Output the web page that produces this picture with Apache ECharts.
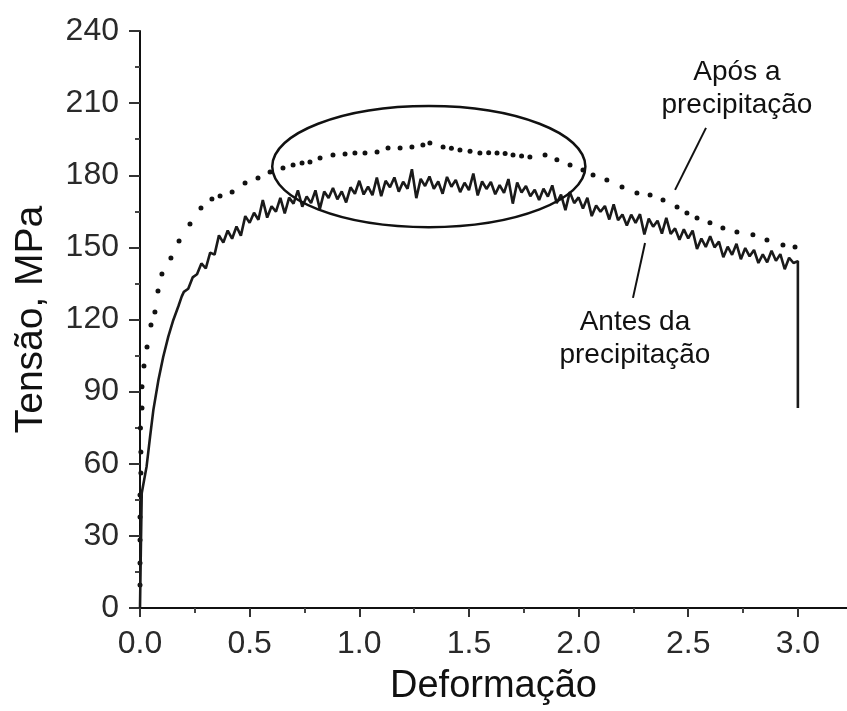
<!DOCTYPE html>
<html><head><meta charset="utf-8">
<script src="https://cdn.jsdelivr.net/npm/echarts@6/dist/echarts.min.js"></script>
<style>html,body{margin:0;padding:0;background:#fff}#c{width:847px;height:711px}</style>
</head><body><div id="c"></div>
<script>
// ---- tick labels ----
const xTicks = [0, 0.5, 1.0, 1.5, 2.0, 2.5, 3.0];
const xMinorTicks = [0.25, 0.75, 1.25, 1.75, 2.25, 2.75];
const yTicks = [0, 30, 60, 90, 120, 150, 180, 210, 240];

// ---- "Antes da precipitação" (solid, noisy) ----
const antesStrain = [0,0.004,0.008,0.03,0.046,0.061,0.084,0.106,0.129,0.152,0.175,0.19,
0.20,0.22,0.24,0.26,0.28,0.30,0.32,0.34,0.36,0.38,
0.40,0.42,0.44,0.46,0.48,0.50,0.52,0.54,0.56,0.58,
0.60,0.62,0.64,0.66,0.68,0.70,0.72,0.74,0.76,0.78,
0.80,0.82,0.84,0.86,0.88,0.90,0.92,0.94,0.96,0.98,
1.00,1.02,1.04,1.06,1.08,1.10,1.12,1.14,1.16,1.18,
1.20,1.22,1.24,1.26,1.28,1.30,1.32,1.34,1.36,1.38,
1.40,1.42,1.44,1.46,1.48,1.50,1.52,1.54,1.56,1.58,
1.60,1.62,1.64,1.66,1.68,1.70,1.72,1.74,1.76,1.78,
1.80,1.82,1.84,1.86,1.88,1.90,1.92,1.94,1.96,1.98,
2.00,2.02,2.04,2.06,2.08,2.10,2.12,2.14,2.16,2.18,
2.20,2.22,2.24,2.26,2.28,2.30,2.32,2.34,2.36,2.38,
2.40,2.42,2.44,2.46,2.48,2.50,2.52,2.54,2.56,2.58,
2.60,2.62,2.64,2.66,2.68,2.70,2.72,2.74,2.76,2.78,
2.80,2.82,2.84,2.86,2.88,2.90,2.92,2.94,2.96,2.98,
3.00,3.00];
const antesStress = [0,25,47.8,58.8,71.3,82.4,94.8,104.5,112.9,119.8,125.5,129.5,
131.5,132.8,137.5,138.8,143.3,141.3,147.8,147.0,155.0,152.0,
157.0,153.6,158.7,154.9,163.0,160.2,164.4,161.5,169.7,162.4,
167.1,164.9,170.6,164.1,170.7,168.2,173.7,166.9,171.2,168.4,
173.7,165.9,173.2,170.5,174.7,170.0,173.3,168.7,175.0,172.3,
177.7,172.0,175.3,171.7,179.0,171.3,177.7,175.0,179.1,173.2,
177.3,174.4,182.5,170.5,178.5,175.5,179.5,174.4,177.4,172.3,
179.3,175.2,178.1,173.0,176.9,173.8,180.7,171.6,177.4,174.3,
177.2,172.1,175.9,172.7,178.4,168.2,177.0,172.8,175.5,171.3,
174.0,169.7,174.4,171.1,175.8,168.4,171.9,165.5,173.0,168.4,
170.8,166.2,170.6,163.0,167.4,164.8,167.2,161.6,167.9,161.3,
163.7,159.1,163.6,160.2,163.8,155.4,162.0,158.6,161.1,155.7,
162.3,155.6,157.9,153.2,157.5,153.7,157.0,149.3,153.7,150.2,
154.6,150.0,152.4,145.9,150.3,146.9,151.5,145.1,149.7,146.3,
148.9,143.5,147.1,143.8,148.6,144.4,147.2,140.9,145.7,143.5,
144.3,83.2];

// ---- "Após a precipitação" (dotted) ----
const aposStrain = [0,0,0,0,0,0.004,0.004,0.002,0.009,0.009,
0.018,0.032,0.05,0.068,0.082,0.1,0.141,0.178,0.228,0.278,0.328,0.365,
0.42,0.479,0.538,0.593,0.652,0.698,0.739,0.775,0.821,0.88,0.935,0.98,1.026,1.081,1.131,1.186,1.24,1.29,
1.322,1.382,1.42,1.459,1.505,1.55,1.59,1.628,1.665,1.701,1.74,1.778,
1.847,1.901,1.961,2.02,2.066,2.129,2.198,2.266,2.326,2.385,2.449,2.494,2.54,2.599,2.658,2.722,2.795,2.859,2.932,2.987];
const aposStress = [9.6,18.7,28.3,37.9,47,56.2,64.9,74.9,83.2,92,
100.7,108.6,117.7,123.1,131.9,138.9,145.6,152.7,159.7,166.4,170.1,171.4,
173.0,176.8,178.9,181.4,183.0,184.3,185.1,185.5,187.2,188.4,188.8,189.3,189.3,189.7,191.3,191.3,191.8,192.6,
193.4,191.8,191.2,190.5,190.0,189.3,189.4,189.3,189.0,188.4,188.0,187.6,
188.4,186.4,184.3,182.2,180.1,178.0,175.1,172.6,171.8,169.7,166.8,164.3,162.2,160.2,158.1,156.4,155.2,153.1,151.0,150.2];

// ---- annotations (data coordinates) ----
const ellipseCenter = [1.317, 183.6];
const ellipseRadius = [0.714, 25.2];
const labelApos = 'Após a\nprecipitação';
const labelApoAnchor = [2.722, 216.1];
const labelApoLeader = [[2.581, 199.7], [2.44, 173.9]];
const labelAntes = 'Antes da\nprecipitação';
const labelAntesAnchor = [2.257, 112.1];
const labelAntesLeader = [[2.303, 151.8], [2.248, 129.0]];

const FONT = '"Liberation Sans", Arial, sans-serif';
const chart = echarts.init(document.getElementById('c'), null, {renderer: 'canvas'});

const antesData = antesStrain.map((x, i) => [x, antesStress[i]]);
const aposData = aposStrain.map((x, i) => [x, aposStress[i]]);

chart.setOption({
  animation: false,
  backgroundColor: '#fff',
  grid: {left: 140, right: 0, top: 31, bottom: 103, containLabel: false},
  xAxis: [{
    type: 'value', min: 0, max: 3.224,
    name: 'Deformação', nameLocation: 'middle', nameGap: 60,
    nameTextStyle: {fontFamily: FONT, fontSize: 38, color: '#111'},
    axisLine: {show: true, onZero: false, lineStyle: {color: '#111', width: 2}},
    axisTick: {show: true, customValues: xTicks, length: 9, lineStyle: {color: '#333', width: 2}},
    axisLabel: {customValues: xTicks, margin: 20, fontFamily: FONT, fontSize: 32, color: '#2a2a2a',
      formatter: v => Number(v).toFixed(1)},
    splitLine: {show: false}
  }, {
    type: 'value', min: 0, max: 3.224, position: 'bottom',
    axisLine: {show: false},
    axisTick: {show: true, customValues: xMinorTicks, length: 5, lineStyle: {color: '#444', width: 2}},
    axisLabel: {show: false},
    splitLine: {show: false}
  }],
  yAxis: {
    type: 'value', min: 0, max: 240, interval: 30,
    name: 'Tensão, MPa', nameLocation: 'middle', nameGap: 89,
    nameTextStyle: {fontFamily: FONT, fontSize: 39, color: '#111'},
    axisLine: {show: true, lineStyle: {color: '#111', width: 2}},
    axisTick: {show: true, length: 11, lineStyle: {color: '#333', width: 2}},
    minorTick: {show: true, splitNumber: 2, length: 5, lineStyle: {color: '#444', width: 2}},
    axisLabel: {customValues: yTicks, margin: 21, fontFamily: FONT, fontSize: 32, color: '#2a2a2a'},
    splitLine: {show: false}
  },
  series: [{
    name: 'Antes da precipitação', type: 'line', data: antesData,
    showSymbol: false, symbol: 'none',
    lineStyle: {color: '#1a1a1a', width: 2.6}, z: 3
  }, {
    name: 'Após a precipitação', type: 'scatter', data: aposData,
    symbol: 'circle', symbolSize: 5,
    itemStyle: {color: '#111', opacity: 1}, z: 2
  }]
});

function px(p) { return chart.convertToPixel({gridIndex: 0}, p); }
const c0 = px(ellipseCenter);
const cx1 = px([ellipseCenter[0] + ellipseRadius[0], ellipseCenter[1] + ellipseRadius[1]]);
const rx = Math.abs(cx1[0] - c0[0]);
const ry = Math.abs(cx1[1] - c0[1]);
const a1 = px(labelApoAnchor), a2 = px(labelAntesAnchor);
const l1a = px(labelApoLeader[0]), l1b = px(labelApoLeader[1]);
const l2a = px(labelAntesLeader[0]), l2b = px(labelAntesLeader[1]);

chart.setOption({
  graphic: [
    {type: 'ellipse', shape: {cx: c0[0], cy: c0[1], rx: rx, ry: ry},
     style: {fill: 'none', stroke: '#111', lineWidth: 2.5}, z: 10},
    {type: 'line', shape: {x1: l1a[0], y1: l1a[1], x2: l1b[0], y2: l1b[1]},
     style: {stroke: '#111', lineWidth: 2}, z: 10},
    {type: 'line', shape: {x1: l2a[0], y1: l2a[1], x2: l2b[0], y2: l2b[1]},
     style: {stroke: '#111', lineWidth: 2}, z: 10},
    {type: 'text', x: a1[0], y: a1[1], z: 10,
     style: {text: labelApos, font: '28px ' + FONT, fill: '#111', align: 'center', verticalAlign: 'middle', lineHeight: 33}},
    {type: 'text', x: a2[0], y: a2[1], z: 10,
     style: {text: labelAntes, font: '28px ' + FONT, fill: '#111', align: 'center', verticalAlign: 'middle', lineHeight: 33}}
  ]
});
</script>
</body></html>
